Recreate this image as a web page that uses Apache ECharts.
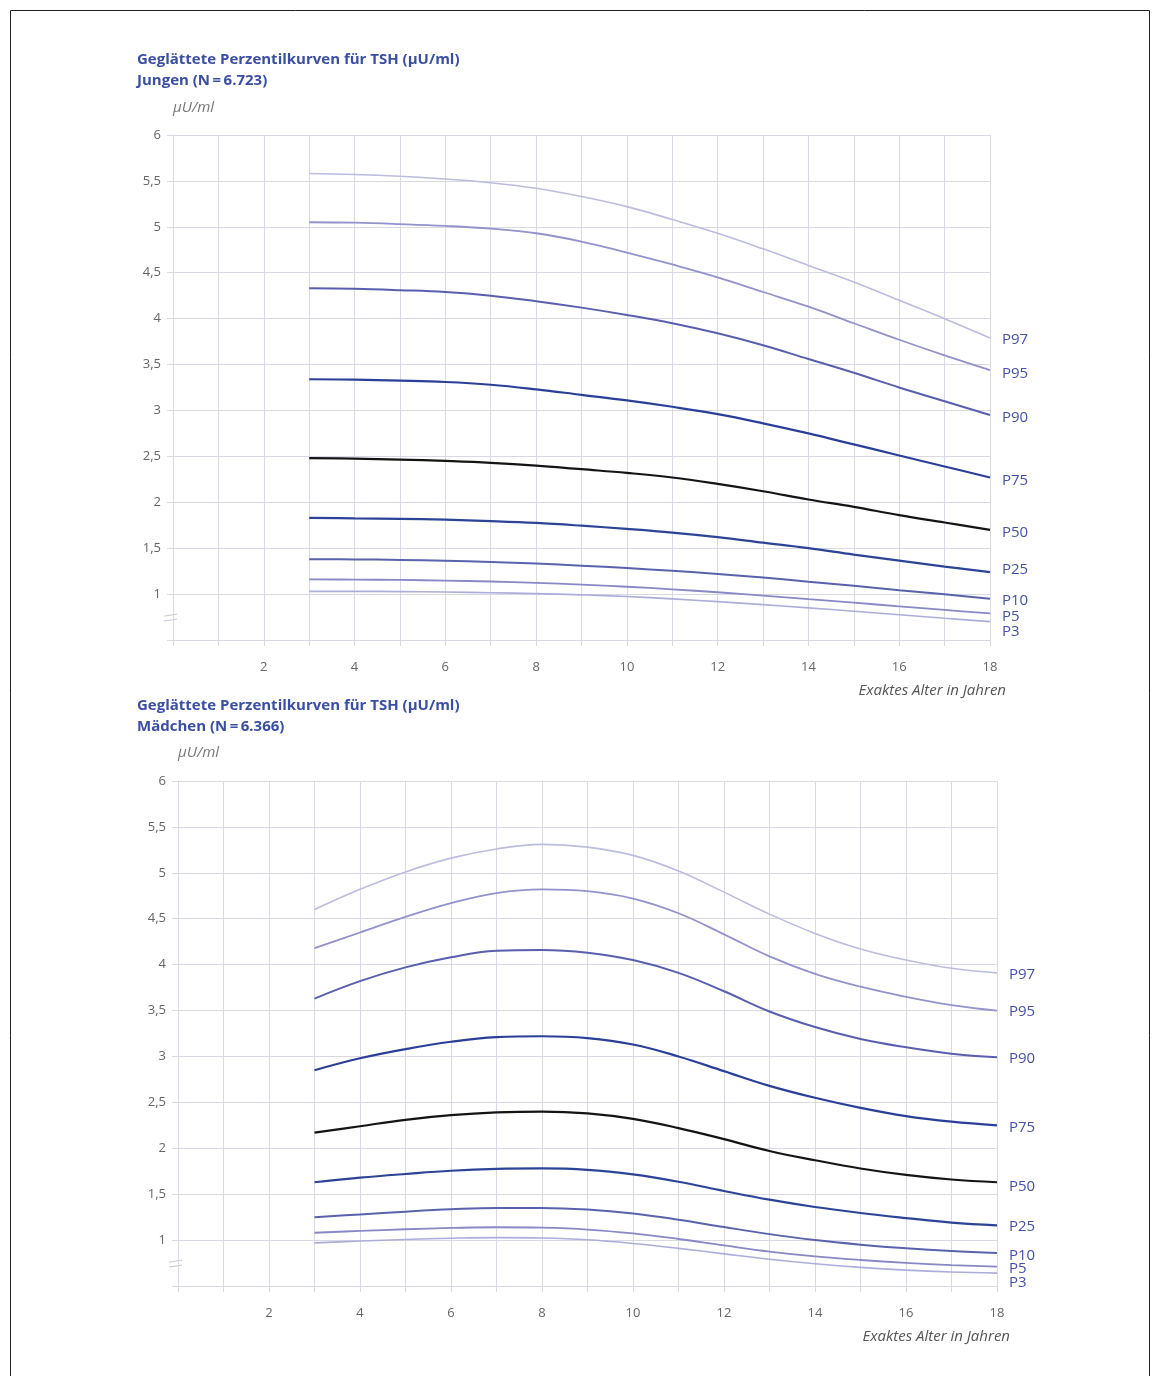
<!DOCTYPE html>
<html>
<head>
<meta charset="utf-8">
<script src="https://cdn.jsdelivr.net/npm/echarts@6/dist/echarts.min.js"></script>
<style>
html,body{margin:0;padding:0;background:#fff;}
#c{width:1160px;height:1376px;}
</style>
</head>
<body>
<div id="c"></div>
<script>
// ---- data ----
const ages = [3,4,5,6,7,8,9,10,11,12,13,14,15,16,17,18];
const percentileNames = ['P97','P95','P90','P75','P50','P25','P10','P5','P3'];

const boysP97 = [5.58,5.57,5.55,5.52,5.48,5.42,5.33,5.22,5.08,4.93,4.76,4.58,4.40,4.20,4.00,3.79];
const boysP95 = [5.05,5.045,5.03,5.01,4.98,4.93,4.84,4.72,4.59,4.45,4.29,4.13,3.95,3.77,3.60,3.44];
const boysP90 = [4.33,4.325,4.31,4.29,4.25,4.19,4.12,4.04,3.95,3.84,3.71,3.56,3.41,3.25,3.10,2.95];
const boysP75 = [3.34,3.335,3.325,3.31,3.28,3.23,3.17,3.11,3.04,2.96,2.86,2.75,2.63,2.51,2.39,2.27];
const boysP50 = [2.48,2.475,2.465,2.45,2.43,2.40,2.36,2.32,2.27,2.20,2.12,2.03,1.95,1.86,1.78,1.70];
const boysP25 = [1.83,1.825,1.82,1.81,1.795,1.775,1.745,1.71,1.67,1.62,1.56,1.50,1.43,1.365,1.30,1.24];
const boysP10 = [1.38,1.378,1.372,1.363,1.35,1.333,1.31,1.283,1.253,1.22,1.18,1.135,1.09,1.043,0.997,0.95];
const boysP5  = [1.16,1.158,1.154,1.147,1.137,1.123,1.104,1.08,1.052,1.02,0.984,0.945,0.906,0.867,0.828,0.79];
const boysP3  = [1.03,1.03,1.027,1.022,1.015,1.005,0.992,0.973,0.948,0.918,0.885,0.85,0.813,0.775,0.737,0.70];

const girlsP97 = [4.60,4.82,5.01,5.16,5.26,5.31,5.28,5.19,5.02,4.79,4.55,4.34,4.17,4.05,3.96,3.91];
const girlsP95 = [4.18,4.35,4.52,4.67,4.78,4.82,4.80,4.72,4.56,4.33,4.09,3.90,3.76,3.65,3.56,3.50];
const girlsP90 = [3.63,3.82,3.97,4.08,4.15,4.16,4.13,4.05,3.91,3.71,3.49,3.32,3.19,3.10,3.03,2.99];
const girlsP75 = [2.85,2.98,3.08,3.16,3.21,3.22,3.20,3.13,3.00,2.84,2.68,2.55,2.44,2.35,2.29,2.25];
const girlsP50 = [2.17,2.24,2.31,2.36,2.39,2.40,2.38,2.32,2.22,2.10,1.97,1.87,1.78,1.71,1.66,1.63];
const girlsP25 = [1.63,1.68,1.72,1.755,1.775,1.78,1.765,1.715,1.635,1.535,1.44,1.36,1.295,1.24,1.19,1.16];
const girlsP10 = [1.25,1.28,1.31,1.335,1.35,1.35,1.333,1.29,1.222,1.142,1.065,1.0,0.95,0.91,0.88,0.86];
const girlsP5  = [1.08,1.10,1.118,1.132,1.14,1.135,1.115,1.073,1.012,0.942,0.875,0.822,0.783,0.752,0.728,0.71];
const girlsP3  = [0.97,0.99,1.007,1.02,1.027,1.022,1.003,0.963,0.91,0.85,0.792,0.743,0.703,0.673,0.652,0.64];

const boysData  = [boysP97,boysP95,boysP90,boysP75,boysP50,boysP25,boysP10,boysP5,boysP3];
const girlsData = [girlsP97,girlsP95,girlsP90,girlsP75,girlsP50,girlsP25,girlsP10,girlsP5,girlsP3];

const yTicks = [1,1.5,2,2.5,3,3.5,4,4.5,5,5.5,6];
const xTickLabels = [2,4,6,8,10,12,14,16,18];

const titleBoys1 = 'Geglättete Perzentilkurven für TSH (µU/ml)';
const titleBoys2 = 'Jungen (N\u2009=\u20096.723)';
const titleGirls1 = 'Geglättete Perzentilkurven für TSH (µU/ml)';
const titleGirls2 = 'Mädchen (N\u2009=\u20096.366)';
const yName = 'µU/ml';
const xName = 'Exaktes Alter in Jahren';

// ---- styles ----
const lineColors = ['#bcbcde','#9292cc','#5a5eae','#2b3f98','#141414','#2c4498','#5a62ac','#8888c6','#adadda'];
const lineWidths = [1.6,1.8,2,2.2,2.2,2.2,2,1.8,1.6];
const boysLabelDy  = [2,4,3,3,3,-2,2,3,10];
const girlsLabelDy = [2,1,1,2,4,1,3,2,10];
const gridColor = '#d9d9e3';
const labelBlue = '#4650a4';
const titleBlue = '#3b4ea2';
const font = '"Open Sans", "DejaVu Sans", sans-serif';

const chart = echarts.init(document.getElementById('c'), null, {renderer:'canvas'});

const grids = [
  {left:173, top:135, width:817, height:505},
  {left:178, top:781, width:819, height:505}
];

function xAxisCfg(i, gap){
  return {
    type:'value', gridIndex:i, min:0, max:18, interval:1,
    axisLine:{show:true, lineStyle:{color:gridColor, width:1}},
    axisTick:{show:true, length:6, lineStyle:{color:gridColor}},
    splitLine:{show:true, lineStyle:{color:gridColor, width:1}},
    axisLabel:{
      margin:21, color:'#666', fontSize:13, fontFamily:font,
      formatter: v => xTickLabels.indexOf(v) >= 0 ? String(v) : ''
    },
    name:xName, nameLocation:'end', nameGap:gap,
    nameTextStyle:{color:'#555', fontStyle:'italic', fontSize:15, fontFamily:font,
      align:'right', verticalAlign:'top', padding:[43,0,0,0]}
  };
}
function yAxisCfg(i, gap){
  return {
    type:'value', gridIndex:i, min:0.5, max:6, interval:0.5,
    axisLine:{show:true, lineStyle:{color:gridColor, width:1}},
    axisTick:{show:true, length:6, lineStyle:{color:gridColor}},
    splitLine:{show:true, lineStyle:{color:gridColor, width:1}},
    axisLabel:{
      margin:12, color:'#666', fontSize:13, fontFamily:font,
      formatter: v => yTicks.indexOf(v) >= 0 ? String(v).replace('.', ',') : ''
    },
    name:yName, nameLocation:'end', nameGap:gap,
    nameTextStyle:{color:'#777', fontStyle:'italic', fontSize:15, fontFamily:font, align:'left'}
  };
}

const series = [];
function addSeries(dataSets, idx, dys){
  dataSets.forEach((vals, k) => {
    series.push({
      type:'line', xAxisIndex:idx, yAxisIndex:idx, name:percentileNames[k],
      data: ages.map((a, j) => [a, vals[j]]),
      smooth:0.4, symbol:'none', silent:true,
      lineStyle:{color:lineColors[k], width:lineWidths[k]},
      endLabel:{show:true, formatter:percentileNames[k], color:labelBlue, fontSize:15,
        fontFamily:font, distance:12, offset:[0, dys[k]]}
    });
  });
}
addSeries(boysData, 0, boysLabelDy);
addSeries(girlsData, 1, girlsLabelDy);

const titleStyle = {color:titleBlue, fontSize:15, fontWeight:'bold', fontFamily:font, lineHeight:21};

chart.setOption({
  animation:false,
  backgroundColor:'#fff',
  title:[
    {text:titleBoys1 + '\n' + titleBoys2, left:137, top:49, padding:0, textStyle:titleStyle},
    {text:titleGirls1 + '\n' + titleGirls2, left:137, top:695, padding:0, textStyle:titleStyle}
  ],
  grid:grids,
  xAxis:[xAxisCfg(0,16), xAxisCfg(1,13)],
  yAxis:[yAxisCfg(0,20), yAxisCfg(1,21)],
  series:series
});

// decorations: page frame and axis-break marks
const deco = [{type:'rect', shape:{x:10.5, y:10.5, width:1139, height:1400}, style:{fill:'none', stroke:'#222', lineWidth:1}}];
[0,1].forEach(i => {
  const p = chart.convertToPixel({gridIndex:i}, [0, 0.76]);
  [0,5].forEach(d => {
    deco.push({type:'line', shape:{x1:p[0]-9, y1:p[1]+d, x2:p[0]+4, y2:p[1]+d-2},
      style:{stroke:'#c8c8d4', lineWidth:1}});
  });
});
chart.setOption({graphic:deco});
</script>
</body>
</html>
